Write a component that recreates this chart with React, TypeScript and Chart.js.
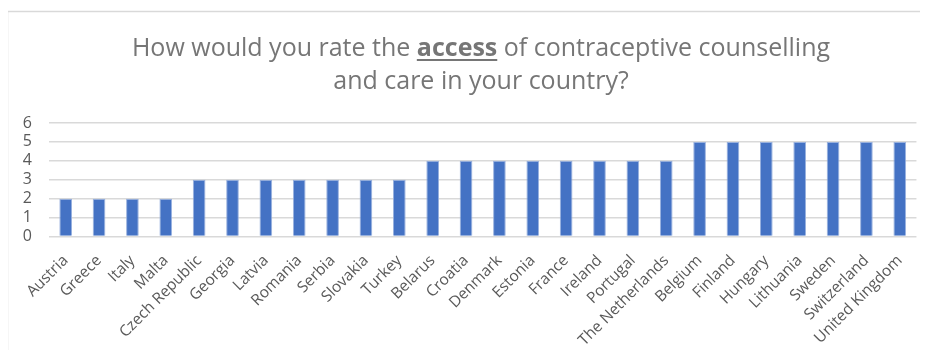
import { useEffect, useRef } from 'react';
import { Chart, registerables } from 'chart.js';

Chart.register(...registerables);

// Survey answers: rating of access to contraceptive counselling and care
const countries = [
  'Austria', 'Greece', 'Italy', 'Malta', 'Czech Republic', 'Georgia', 'Latvia',
  'Romania', 'Serbia', 'Slovakia', 'Turkey', 'Belarus', 'Croatia', 'Denmark',
  'Estonia', 'France', 'Ireland', 'Portugal', 'The Netherlands', 'Belgium',
  'Finland', 'Hungary', 'Lithuania', 'Sweden', 'Switzerland', 'United Kingdom',
];
const ratings = [2, 2, 2, 2, 3, 3, 3, 3, 3, 3, 3, 4, 4, 4, 4, 4, 4, 4, 4, 5, 5, 5, 5, 5, 5, 5];

const Y_MIN = 0;
const Y_MAX = 6;
const Y_STEP = 1;

type Run = { text: string; bold?: boolean; underline?: boolean };
const titleLines: Run[][] = [
  [
    { text: 'How would you rate the ' },
    { text: 'access', bold: true, underline: true },
    { text: ' of contraceptive counselling' },
  ],
  [{ text: 'and care in your country?' }],
];

const FONT = '"Open Sans", "DejaVu Sans", sans-serif';
const TEXT_GREY = '#595959';
const TITLE_GREY = '#767676';
const GRID_GREY = '#d9d9d9';
const BAR_BLUE = '#4472c4';

// Draws the outer frame and the mixed-style title
const framePlugin = {
  id: 'frameAndTitle',
  beforeDraw(chart: Chart) {
    const ctx = chart.ctx;
    ctx.save();
    ctx.fillStyle = '#ffffff';
    ctx.fillRect(0, 0, chart.width, chart.height);
    ctx.strokeStyle = GRID_GREY;
    ctx.lineWidth = 1.5;
    ctx.strokeRect(7.5, 11.5, chart.width + 20, chart.height + 20);
    ctx.restore();
  },
  afterDraw(chart: Chart) {
    const ctx = chart.ctx;
    const size = 25;
    const centerX = 481;
    const baselines = [56, 89];
    ctx.save();
    ctx.fillStyle = TITLE_GREY;
    ctx.strokeStyle = TITLE_GREY;
    ctx.textBaseline = 'alphabetic';
    ctx.textAlign = 'left';
    titleLines.forEach((line, i) => {
      const widths = line.map((r) => {
        ctx.font = `${r.bold ? 'bold ' : ''}${size}px ${FONT}`;
        return ctx.measureText(r.text).width;
      });
      const total = widths.reduce((a, b) => a + b, 0);
      let x = centerX - total / 2;
      const y = baselines[i];
      line.forEach((r, j) => {
        ctx.font = `${r.bold ? 'bold ' : ''}${size}px ${FONT}`;
        ctx.fillText(r.text, x, y);
        if (r.underline) {
          ctx.lineWidth = 1.8;
          ctx.beginPath();
          ctx.moveTo(x, y + 4);
          ctx.lineTo(x + widths[j], y + 4);
          ctx.stroke();
        }
        x += widths[j];
      });
    });
    ctx.restore();
  },
};

export default function App() {
  const canvasRef = useRef<HTMLCanvasElement | null>(null);

  useEffect(() => {
    if (!canvasRef.current) return;
    const chart = new Chart(canvasRef.current, {
      type: 'bar',
      data: {
        labels: countries,
        datasets: [
          {
            data: ratings,
            backgroundColor: BAR_BLUE,
            borderColor: 'rgba(143,170,220,0.9)',
            borderWidth: 1,
            barPercentage: 0.38,
            categoryPercentage: 1,
          },
        ],
      },
      options: {
        responsive: false,
        animation: false,
        devicePixelRatio: 1,
        layout: { padding: { top: 123, right: 4, left: 0, bottom: 0 } },
        plugins: {
          legend: { display: false },
          title: { display: false },
          tooltip: { enabled: false },
        },
        scales: {
          x: {
            grid: { display: false, drawTicks: false },
            border: { display: false },
            ticks: {
              autoSkip: false,
              maxRotation: 45,
              minRotation: 45,
              padding: 15,
              color: TEXT_GREY,
              font: { family: FONT, size: 15.5 },
            },
            afterFit(scale: any) {
              scale.height = 121.5;
            },
          },
          y: {
            min: Y_MIN,
            max: Y_MAX,
            grid: { color: GRID_GREY, lineWidth: 1.5, drawTicks: false },
            border: { display: false },
            ticks: {
              stepSize: Y_STEP,
              autoSkip: false,
              padding: 17,
              color: TEXT_GREY,
              font: { family: FONT, size: 16 },
            },
            afterFit(scale: any) {
              scale.width = 49;
            },
          },
        },
      },
      plugins: [framePlugin],
    });
    return () => chart.destroy();
  }, []);

  return (
    <div style={{ width: 928, height: 358, margin: -8, position: 'relative' }}>
      <canvas ref={canvasRef} width={928} height={358} style={{ display: 'block' }} />
    </div>
  );
}
